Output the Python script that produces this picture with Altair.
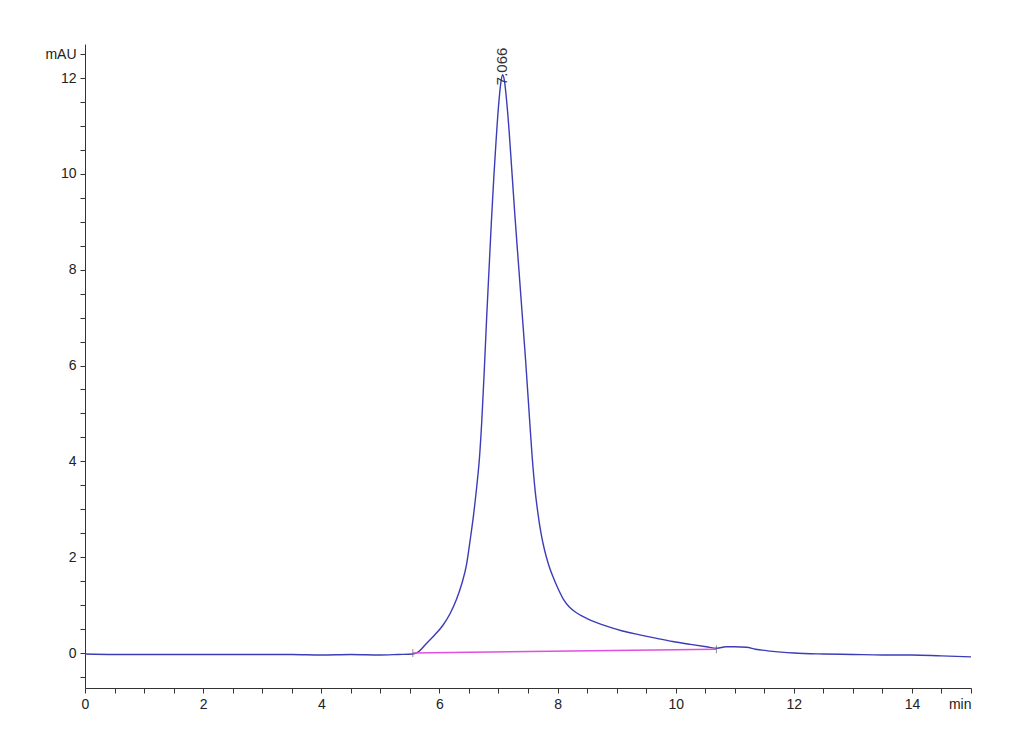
import altair as alt
import pandas as pd

# Chromatogram trace (time in min, absorbance in mAU)
time_min = [0, 0.5, 1, 1.5, 2, 2.5, 3, 3.5, 4, 4.5, 5, 5.3, 5.55, 5.65, 5.78, 5.9,
            6.06, 6.18, 6.29, 6.38, 6.46, 6.52, 6.58, 6.63, 6.68, 6.72, 6.76, 6.80,
            6.84, 6.88, 6.92, 6.96, 7.00, 7.04, 7.07, 7.10, 7.14, 7.18, 7.23, 7.28,
            7.34, 7.40, 7.46, 7.52, 7.57, 7.62, 7.67, 7.72, 7.78, 7.84, 7.92, 8.01,
            8.1, 8.2, 8.32, 8.5, 8.83, 9.1, 9.39, 9.7, 9.95, 10.25, 10.52, 10.7, 10.85,
            11.0, 11.2, 11.35, 11.6, 12.0, 12.5, 13.0, 13.5, 14.0, 14.5, 15.0]
signal_mau = [-0.02, -0.03, -0.03, -0.03, -0.03, -0.03, -0.03, -0.03, -0.04, -0.03,
              -0.04, -0.03, -0.02, 0.03, 0.2, 0.35, 0.58, 0.82, 1.12, 1.45, 1.85,
              2.35, 2.9, 3.45, 4.1, 4.9, 5.9, 7.0, 8.0, 9.0, 9.9, 10.7, 11.4, 11.9,
              12.07, 11.95, 11.5, 10.9, 10.0, 9.1, 8.1, 7.1, 6.1, 5.0, 4.1, 3.4, 2.9,
              2.5, 2.15, 1.88, 1.6, 1.34, 1.12, 0.96, 0.84, 0.72, 0.56, 0.46, 0.38,
              0.3, 0.24, 0.18, 0.13, 0.1, 0.13, 0.13, 0.12, 0.08, 0.04, 0.0, -0.02,
              -0.03, -0.04, -0.04, -0.06, -0.08]

# Integration baseline
baseline_time = [5.55, 10.69]
baseline_mau = [0.0, 0.08]

# Peak annotation
peak_time = [7.066]
peak_label_y = [11.85]
peak_label = ["7.066"]

x_ticks = [i * 0.5 for i in range(31)]
y_ticks = [-0.5 + i * 0.5 for i in range(27)]

trace = pd.DataFrame({"t": time_min, "v": signal_mau})
base = pd.DataFrame({"t": baseline_time, "v": baseline_mau})
peak = pd.DataFrame({"t": peak_time, "v": peak_label_y, "label": peak_label})

x_scale = alt.Scale(domain=[0, 15], nice=False, zero=False)
y_scale = alt.Scale(domain=[-0.73, 12.71], nice=False, zero=False)

x_axis = alt.Axis(
    values=x_ticks, title=None, grid=False, tickSize=5,
    labelExpr="datum.value == 15 ? 'min' : (datum.value % 2 == 0 ? '' + datum.value : '')",
    labelAlign={"condition": {"test": "datum.value == 15", "value": "right"}, "value": "center"},
    labelPadding=4, labelFontSize=14, labelFont="Liberation Sans", labelColor="#222",
    domainColor="#333", tickColor="#333", labelFlush=False, labelOverlap=False,
)
y_axis = alt.Axis(
    values=y_ticks, title=None, grid=False, tickSize=5,
    labelExpr="datum.value == 12.5 ? 'mAU' : (datum.value % 2 == 0 ? '' + datum.value : '')",
    labelPadding=4, labelFontSize=14, labelFont="Liberation Sans", labelColor="#222",
    domainColor="#333", tickColor="#333", labelFlush=False, labelOverlap=False,
)

line = alt.Chart(trace).mark_line(color="#3c3cb8", strokeWidth=1.4, interpolate="monotone").encode(
    x=alt.X("t:Q", scale=x_scale, axis=x_axis),
    y=alt.Y("v:Q", scale=y_scale, axis=y_axis),
)

baseline = alt.Chart(base).mark_line(color="#e050e0", strokeWidth=1.4).encode(
    x=alt.X("t:Q", scale=x_scale, axis=x_axis),
    y=alt.Y("v:Q", scale=y_scale, axis=y_axis),
)

markers = alt.Chart(base).mark_tick(color="#666", size=8, thickness=1, orient="vertical").encode(
    x=alt.X("t:Q", scale=x_scale, axis=x_axis),
    y=alt.Y("v:Q", scale=y_scale, axis=y_axis),
)

label = alt.Chart(peak).mark_text(
    angle=270, align="left", baseline="middle", fontSize=15,
    font="Liberation Sans", color="#333",
).encode(
    x=alt.X("t:Q", scale=x_scale, axis=x_axis),
    y=alt.Y("v:Q", scale=y_scale, axis=y_axis),
    text="label:N",
)

chart = (line + baseline + markers + label).properties(
    width=886, height=644,
    autosize=alt.AutoSizeParams(type="none"),
    padding={"left": 77, "top": 36, "right": 20, "bottom": 40},
).configure(background="white").configure_view(strokeWidth=0, stroke="transparent")

chart.save("out.html", embed_options={"renderer": "svg", "actions": False})
